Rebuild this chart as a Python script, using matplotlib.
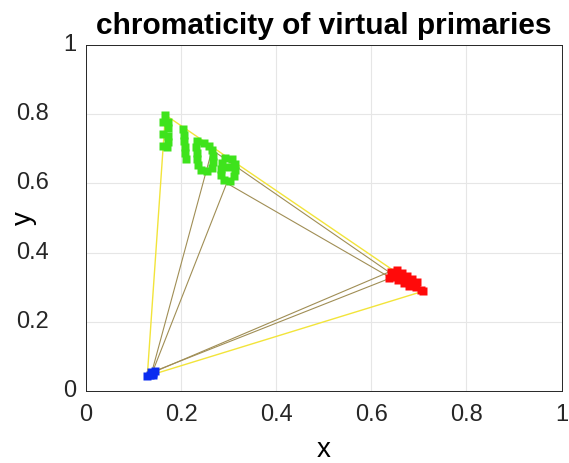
import matplotlib
matplotlib.use("Agg")
import matplotlib.pyplot as plt

plt.rcParams['font.family'] = ['Liberation Sans', 'DejaVu Sans']

# chromaticity samples for each virtual primary (x, y)
green_x = [0.167, 0.163, 0.172, 0.163, 0.172, 0.163, 0.172, 0.170, 0.172,
           0.205, 0.207, 0.207, 0.209, 0.209, 0.211,
           0.234, 0.232, 0.234, 0.234, 0.236, 0.242, 0.255, 0.265, 0.267, 0.267, 0.265, 0.259, 0.249,
           0.292, 0.286, 0.284, 0.284, 0.290, 0.303, 0.311, 0.313, 0.313, 0.307, 0.299]
green_y = [0.798, 0.777, 0.777, 0.743, 0.760, 0.709, 0.737, 0.705, 0.720,
           0.757, 0.740, 0.723, 0.705, 0.688, 0.670,
           0.723, 0.705, 0.688, 0.670, 0.653, 0.639, 0.636, 0.645, 0.662, 0.679, 0.697, 0.709, 0.717,
           0.675, 0.659, 0.642, 0.624, 0.610, 0.607, 0.621, 0.639, 0.656, 0.671, 0.647]

red_x = [0.641, 0.651, 0.662, 0.672, 0.683, 0.693, 0.704, 0.653, 0.664, 0.674,
         0.685, 0.695, 0.708, 0.637, 0.647, 0.657, 0.668, 0.679]
red_y = [0.344, 0.335, 0.327, 0.318, 0.309, 0.301, 0.292, 0.350, 0.341, 0.332,
         0.324, 0.315, 0.289, 0.327, 0.330, 0.322, 0.313, 0.305]

blue_x = [0.134, 0.140, 0.146, 0.136, 0.129, 0.142]
blue_y = [0.046, 0.052, 0.058, 0.055, 0.043, 0.047]

# triangles spanned by selected primaries: (green, red, blue) vertices
tri_yellow = ([0.167, 0.710, 0.129], [0.798, 0.289, 0.043])
tri_olive = [([0.265, 0.637, 0.138], [0.697, 0.344, 0.052]),
             ([0.296, 0.641, 0.140], [0.601, 0.327, 0.055])]

ticks = [0, 0.2, 0.4, 0.6, 0.8, 1]
tick_labels = ['0', '0.2', '0.4', '0.6', '0.8', '1']

fig = plt.figure(figsize=(5.69, 4.63), dpi=100)
ax = fig.add_axes([0.151, 0.1555, 0.836, 0.747])

for tx, ty in tri_olive:
    ax.plot(tx + tx[:1], ty + ty[:1], color='#a08e55', lw=0.8, zorder=2)
tx, ty = tri_yellow
ax.plot(tx + tx[:1], ty + ty[:1], color='#f2e43a', lw=1.0, zorder=2)

ms = 5.4
ax.plot(green_x, green_y, 's', color='#3ee31c', ms=ms, mec='none', zorder=3)
ax.plot(red_x, red_y, 's', color='#ff0a0a', ms=ms, mec='none', zorder=3)
ax.plot(blue_x, blue_y, 's', color='#0a2cf0', ms=ms, mec='none', zorder=3)

ax.set_xlim(0, 1)
ax.set_ylim(0, 1)
ax.set_xticks(ticks)
ax.set_yticks(ticks)
ax.set_xticklabels(tick_labels)
ax.set_yticklabels([])
ax.tick_params(labelsize=17, length=0, pad=9, colors='#262626')

# y tick labels placed by hand: the decimal ones sit further out
for t, lab in zip(ticks, tick_labels):
    off = -0.021 if len(lab) == 1 else -0.077
    ax.text(off, t, lab, transform=ax.get_yaxis_transform(), ha='right', va='center',
            fontsize=17, color='#262626')

ax.grid(True, color='#e6e6e6', lw=0.8)
ax.set_axisbelow(True)
for s in ax.spines.values():
    s.set_color('#262626')
    s.set_linewidth(0.7)

ax.set_xlabel('x', fontsize=20, labelpad=8)
ax.set_ylabel('y', fontsize=20, labelpad=26)
ax.set_title('chromaticity of virtual primaries', fontsize=21.5, fontweight='bold', pad=8)

fig.savefig('out.png', dpi=100)
